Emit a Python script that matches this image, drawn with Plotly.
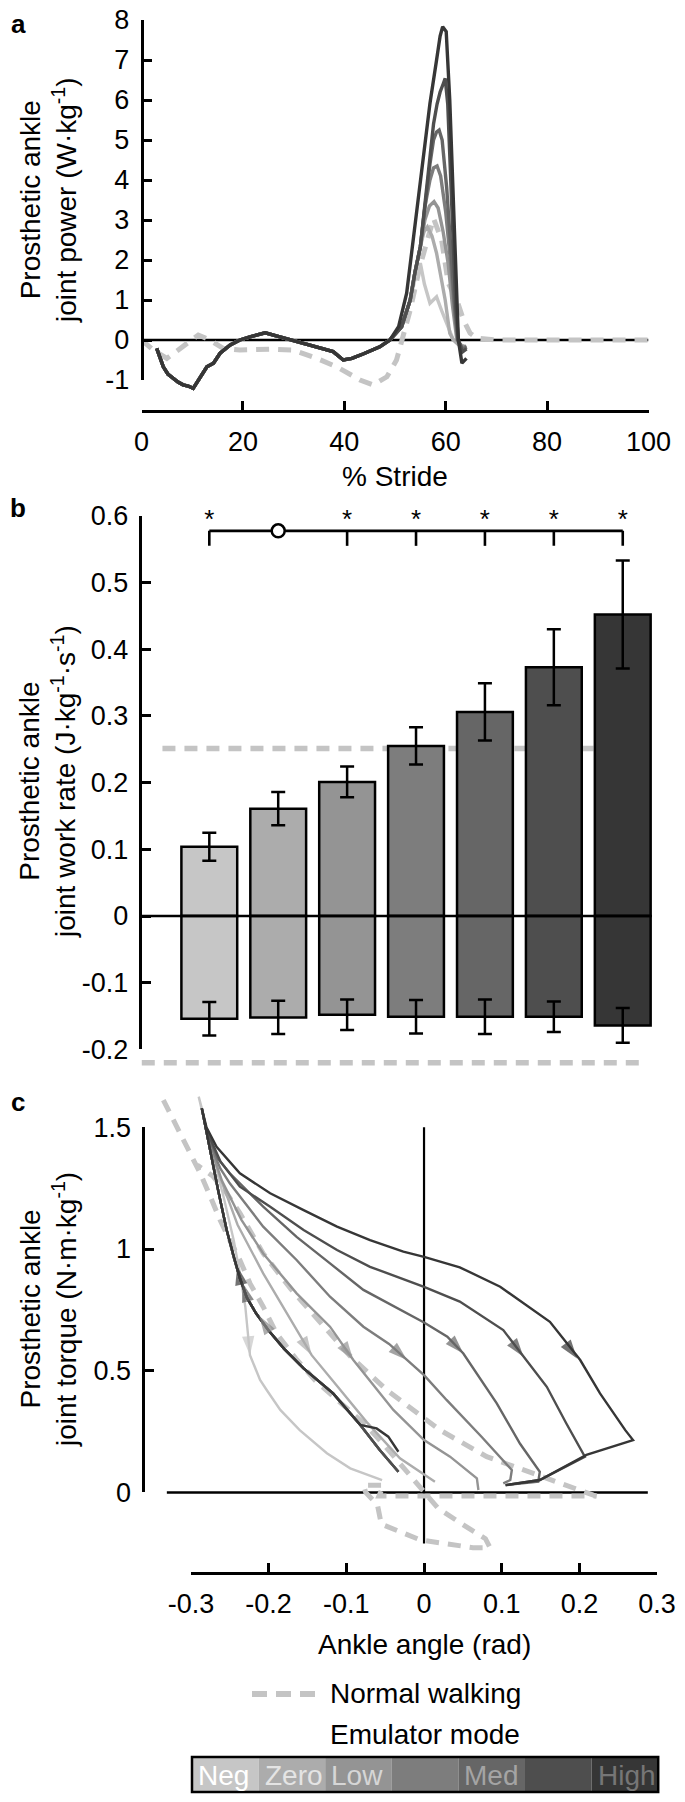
import numpy as np
import plotly.graph_objects as go

# the page body adds an 8 px margin: the figure is drawn 8 px in from the top-left corner
OFF = 8
FW, FH = 685 - OFF, 1802 - OFF
FONT = "Liberation Sans, Arial, Helvetica, sans-serif"


def fx(p):
    return (p - OFF) / FW


def fy(p):
    return 1 - (p - OFF) / FH


# ---------------- shared legend / palette data ----------------
mode_names = ["Neg", "Zero", "Low", "", "Med", "", "High"]
mode_colors = ['#c6c6c6', '#acacac', '#949494', '#7d7d7d', '#666666', '#4e4e4e', '#363636']
cell_text_colors = ['#ffffff', '#e4e4e4', '#d6d6d6', '#b0b0b0', '#a4a4a4', '#8c8c8c', '#767676']
NORMAL = '#c4c4c4'

# ---------------- panel a : power vs % stride ----------------
stride_ticks = [0, 20, 40, 60, 80, 100]
power_ticks = [-1, 0, 1, 2, 3, 4, 5, 6, 7, 8]

stance_x = [3.0, 4.3, 5.2, 6.3, 7.2, 8.2, 9.2, 10.2, 11.2, 12.0, 12.9, 14.2, 15.5, 17.5, 19.4,
            21.4, 24.4, 27.3, 30.6, 34.6, 37.8, 39.8, 41.5, 43.7, 47.0, 49.0]
stance_y = [-0.21, -0.67, -0.85, -0.96, -1.05, -1.12, -1.15, -1.21, -1.0, -0.85, -0.67, -0.58, -0.33,
            -0.125, 0.0, 0.08, 0.18, 0.08, -0.04, -0.17, -0.29, -0.5, -0.46, -0.35, -0.17, 0.0]

neg_push_x = [51.3, 53.0, 53.9, 55.0, 55.8, 56.9, 57.5, 58.2, 59.3, 60.5, 61.5, 62.5, 63.5]
neg_push_y = [0.33, 1.0, 1.5, 1.92, 1.4, 0.92, 1.0, 1.08, 0.7, 0.33, 0.0, -0.1, -0.15]
zero_push_x = [51.3, 53.0, 53.9, 55.0, 55.7, 56.4, 57.3, 58.2, 59.0, 59.9, 60.8, 61.5, 62.5, 63.7]
zero_push_y = [0.33, 1.0, 1.67, 2.33, 2.7, 2.83, 2.6, 2.17, 1.6, 1.0, 0.17, 0.0, -0.12, -0.15]
low_push_x = [51.3, 53.0, 53.9, 55.0, 55.9, 56.8, 57.7, 58.5, 59.5, 60.5, 61.3, 62.2, 63.0, 64.0]
low_push_y = [0.33, 1.0, 1.67, 2.33, 3.0, 3.35, 3.46, 3.3, 2.7, 1.9, 0.9, 0.0, -0.15, -0.2]
m4_push_x = [51.3, 53.0, 53.9, 55.0, 55.9, 56.9, 57.6, 58.3, 59.0, 60.0, 61.0, 61.8, 62.4, 63.3, 64.1]
m4_push_y = [0.33, 1.0, 1.67, 2.33, 3.33, 4.0, 4.3, 4.35, 4.1, 3.2, 1.9, 0.6, 0.0, -0.2, -0.15]
med_push_x = [51.3, 53.0, 53.9, 55.0, 55.9, 56.9, 57.6, 58.2, 58.7, 59.3, 60.2, 61.0, 61.8, 62.4, 63.4, 64.1]
med_push_y = [0.33, 1.0, 1.67, 2.33, 3.33, 4.4, 5.0, 5.2, 5.25, 5.0, 3.8, 2.3, 0.8, 0.0, -0.25, -0.18]
m6_push_x = [51.3, 53.0, 53.9, 55.0, 55.9, 56.9, 57.6, 58.3, 58.9, 59.5, 59.9, 60.4, 61.2, 62.0, 62.5, 63.3, 64.1]
m6_push_y = [0.33, 1.0, 1.67, 2.33, 3.33, 4.5, 5.4, 5.9, 6.2, 6.4, 6.54, 5.9, 3.5, 0.8, 0.0, -0.3, -0.22]
high_push_x = [50.7, 52.3, 53.6, 55.3, 56.9, 58.2, 58.9, 59.4, 60.1, 60.8, 61.5, 62.2, 62.5, 63.2, 64.1]
high_push_y = [0.33, 1.17, 2.5, 4.4, 5.92, 7.0, 7.6, 7.83, 7.71, 6.0, 3.5, 1.0, 0.0, -0.58, -0.46]

normal_stride_x = [0, 2.3, 5.0, 7.6, 11.2, 13.5, 16.1, 19.4, 26.0, 29.9, 34.6, 38.5, 43.1, 45.7, 48.4,
                   50.3, 51.3, 53.0, 54.9, 56.6, 57.6, 59.2, 60.5, 62.2, 63.5, 64.8, 66.1, 70, 80, 90, 100]
normal_power_y = [0, -0.25, -0.46, -0.21, 0.125, 0.0, -0.21, -0.25, -0.23, -0.25, -0.46, -0.67, -1.0, -1.125,
                  -0.92, -0.5, 0.0, 0.75, 1.83, 2.67, 3.04, 2.5, 1.42, 1.0, 0.5, 0.17, 0.05, 0.0, 0.0, 0.0, 0.0]

# ---------------- panel b : work rate bars ----------------
work_ticks = [-0.2, -0.1, 0, 0.1, 0.2, 0.3, 0.4, 0.5, 0.6]
work_ticktext = ['-0.2', '-0.1', '0', '0.1', '0.2', '0.3', '0.4', '0.5', '0.6']
bar_x = [1, 2, 3, 4, 5, 6, 7]
pos_work = [0.104, 0.161, 0.201, 0.255, 0.306, 0.373, 0.452]
pos_err = [0.021, 0.025, 0.023, 0.028, 0.043, 0.057, 0.081]
neg_work = [-0.154, -0.152, -0.148, -0.151, -0.151, -0.151, -0.164]
neg_err = [0.025, 0.025, 0.023, 0.025, 0.026, 0.023, 0.026]
normal_pos_work = 0.251
normal_neg_work = -0.22
sig_star_x = [1, 3, 4, 5, 6, 7]
trend_x = [2]
bracket_y = 0.5775
bracket_tick_y = 0.555
star_y = 0.6

# ---------------- panel c : torque vs angle ----------------
angle_ticks = [-0.3, -0.2, -0.1, 0, 0.1, 0.2, 0.3]
angle_ticktext = ['-0.3', '-0.2', '-0.1', '0', '0.1', '0.2', '0.3']
torque_ticks = [0, 0.5, 1, 1.5]
torque_ticktext = ['0', '0.5', '1', '1.5']

load_main_x = [-0.033, -0.057, -0.082, -0.117, -0.155, -0.180, -0.200, -0.216, -0.228, -0.237, -0.245,
               -0.254, -0.265, -0.275, -0.286]
load_main_y = [0.085, 0.174, 0.277, 0.407, 0.510, 0.590, 0.665, 0.735, 0.800, 0.880, 0.968,
               1.078, 1.242, 1.407, 1.578]
load_branch_x = [-0.033, -0.046, -0.061, -0.082, -0.117, -0.155, -0.180, -0.200, -0.216, -0.228, -0.237,
                 -0.245, -0.254, -0.265, -0.275, -0.286]
load_branch_y = [0.167, 0.229, 0.263, 0.277, 0.407, 0.510, 0.590, 0.665, 0.735, 0.800, 0.880,
                 0.968, 1.078, 1.242, 1.407, 1.578]

neg_unload_x = [-0.290, -0.275, -0.258, -0.245, -0.237, -0.230, -0.224, -0.211, -0.2025, -0.185, -0.160,
                -0.125, -0.095, -0.054]
neg_unload_y = [1.626, 1.420, 1.215, 1.037, 0.900, 0.763, 0.564, 0.462, 0.421, 0.339, 0.256, 0.161, 0.099, 0.051]
zero_unload_x = [-0.286, -0.278, -0.262, -0.240, -0.207, -0.177, -0.1446, -0.110, -0.074, -0.031, 0.014]
zero_unload_y = [1.578, 1.450, 1.290, 1.100, 0.900, 0.736, 0.564, 0.430, 0.290, 0.140, 0.044]
low_unload_x = [-0.286, -0.276, -0.260, -0.235, -0.207, -0.164, -0.121, -0.091, -0.0395, 0.000, 0.0335, 0.068, 0.070]
low_unload_y = [1.578, 1.430, 1.280, 1.120, 0.982, 0.818, 0.681, 0.544, 0.339, 0.215, 0.147, 0.058, 0.010]
m4_unload_x = [-0.286, -0.278, -0.262, -0.250, -0.207, -0.164, -0.121, -0.078, -0.045, -0.022, 0.000, 0.029,
               0.074, 0.113, 0.111, 0.102]
m4_unload_y = [1.578, 1.450, 1.330, 1.270, 1.092, 0.955, 0.804, 0.681, 0.610, 0.544, 0.482, 0.380,
               0.229, 0.092, 0.051, 0.037]
med_unload_x = [-0.286, -0.280, -0.265, -0.250, -0.207, -0.164, -0.121, -0.078, 0.000, 0.030, 0.0506, 0.0936,
                0.1236, 0.149, 0.147, 0.105]
med_unload_y = [1.578, 1.480, 1.370, 1.311, 1.174, 1.050, 0.941, 0.832, 0.698, 0.640, 0.571, 0.366,
                0.200, 0.085, 0.044, 0.030]
m6_unload_x = [-0.286, -0.280, -0.262, -0.237, -0.198, -0.155, -0.112, -0.0695, 0.000, 0.046, 0.102,
               0.128, 0.158, 0.183, 0.207, 0.149, 0.105]
m6_unload_y = [1.578, 1.490, 1.360, 1.256, 1.174, 1.078, 0.996, 0.927, 0.845, 0.784, 0.667,
               0.557, 0.434, 0.284, 0.147, 0.051, 0.030]
high_unload_x = [-0.286, -0.280, -0.267, -0.237, -0.198, -0.155, -0.112, -0.0695, -0.0266, 0.000, 0.046,
                 0.098, 0.162, 0.201, 0.2265, 0.259, 0.269, 0.209, 0.149, 0.105]
high_unload_y = [1.578, 1.500, 1.420, 1.311, 1.229, 1.160, 1.092, 1.037, 0.989, 0.968, 0.925,
                 0.845, 0.701, 0.544, 0.407, 0.256, 0.215, 0.154, 0.051, 0.030]

# normal walking loop: unloading branch (right, to toe-off) and loading branch with the swing loop
normal_unload_x = [0.222, 0.218, 0.1407, 0.0807, 0.0206, -0.048, -0.095, -0.118, -0.145, -0.172, -0.207,
                   -0.237, -0.254, -0.272, -0.292]
normal_unload_y = [-0.015, -0.011, 0.078, 0.147, 0.256, 0.421, 0.560, 0.640, 0.740, 0.838, 0.982,
                   1.148, 1.229, 1.300, 1.345]
normal_load_x = [-0.3355, -0.318, -0.303, -0.288, -0.275, -0.2625, -0.250, -0.237, -0.224, -0.207, -0.190,
                 -0.165, -0.140, -0.108, -0.076, -0.050, -0.0245, -0.0064, 0.018, 0.051, 0.079, 0.085,
                 0.063, -0.005, -0.055, -0.060, -0.075, -0.078, -0.052, -0.058, 0.222]
normal_load_y = [1.612, 1.502, 1.407, 1.311, 1.215, 1.119, 1.037, 0.955, 0.859, 0.763, 0.654,
                 0.550, 0.460, 0.370, 0.280, 0.190, 0.092, 0.023, -0.065, -0.134, -0.190, -0.227,
                 -0.227, -0.195, -0.130, -0.050, 0.000, 0.030, 0.030, -0.015, -0.015]

arrow_down_x = [-0.224, -0.1446, -0.091, -0.022, 0.0506, 0.128, 0.197]
arrow_down_y = [0.564, 0.564, 0.544, 0.544, 0.571, 0.557, 0.550]
arrow_up_x = [-0.2405, -0.2335, -0.212]
arrow_up_y = [0.93, 0.86, 0.725]
arrow_up_colors = ['#383838', '#5c5c5c', '#8a8a8a']

# ---------------- figure ----------------
fig = go.Figure()
no_hover = dict(hoverinfo='skip', showlegend=False)
dash_style = dict(color=NORMAL, width=5, dash='13px,9px')

# panel a traces
fig.add_trace(go.Scatter(x=normal_stride_x, y=normal_power_y, mode='lines', line=dash_style,
                         xaxis='x', yaxis='y', **no_hover))
push_sets = [(neg_push_x, neg_push_y), (zero_push_x, zero_push_y), (low_push_x, low_push_y),
             (m4_push_x, m4_push_y), (med_push_x, med_push_y), (m6_push_x, m6_push_y),
             (high_push_x, high_push_y)]
for (pxs, pys), col in zip(push_sets, mode_colors):
    fig.add_trace(go.Scatter(x=stance_x + pxs, y=stance_y + pys, mode='lines',
                             line=dict(color=col, width=3.4), xaxis='x', yaxis='y', **no_hover))

# panel b traces
fig.add_trace(go.Bar(x=bar_x, y=pos_work, width=0.81, marker=dict(color=mode_colors, line=dict(color='black', width=2.5)),
                     error_y=dict(type='data', array=pos_err, color='black', thickness=2.5, width=7),
                     xaxis='x2', yaxis='y2', **no_hover))
fig.add_trace(go.Bar(x=bar_x, y=neg_work, width=0.81, marker=dict(color=mode_colors, line=dict(color='black', width=2.5)),
                     error_y=dict(type='data', array=neg_err, color='black', thickness=2.5, width=7),
                     xaxis='x2', yaxis='y2', **no_hover))
bx, by = [bar_x[0], bar_x[-1], None], [bracket_y, bracket_y, None]
for sx in sig_star_x:
    bx += [sx, sx, None]
    by += [bracket_y, bracket_tick_y, None]
fig.add_trace(go.Scatter(x=bx, y=by, mode='lines', line=dict(color='black', width=2.6),
                         xaxis='x2', yaxis='y2', **no_hover))
fig.add_trace(go.Scatter(x=trend_x, y=[bracket_y] * len(trend_x), mode='markers',
                         marker=dict(symbol='circle', size=13, color='white', line=dict(color='black', width=2.5)),
                         xaxis='x2', yaxis='y2', **no_hover))
fig.add_trace(go.Scatter(x=sig_star_x, y=[star_y - 0.008] * len(sig_star_x), mode='text', text=['*'] * len(sig_star_x),
                         textfont=dict(family=FONT, size=26, color='black'), textposition='middle center',
                         xaxis='x2', yaxis='y2', **no_hover))

# panel c traces
fig.add_trace(go.Scatter(x=normal_unload_x, y=normal_unload_y, mode='lines', line=dash_style,
                         xaxis='x3', yaxis='y3', **no_hover))
fig.add_trace(go.Scatter(x=normal_load_x, y=normal_load_y, mode='lines', line=dash_style,
                         xaxis='x3', yaxis='y3', **no_hover))
unload_sets = [(neg_unload_x, neg_unload_y), (zero_unload_x, zero_unload_y), (low_unload_x, low_unload_y),
               (m4_unload_x, m4_unload_y), (med_unload_x, med_unload_y), (m6_unload_x, m6_unload_y),
               (high_unload_x, high_unload_y)]
mode_paths = []
for i, ((ux, uy), col) in enumerate(zip(unload_sets, mode_colors)):
    lx, ly = (load_branch_x, load_branch_y) if i == 6 else (load_main_x, load_main_y)
    mode_paths.append((ux, uy))
    fig.add_trace(go.Scatter(x=lx + ux, y=ly + uy, mode='lines', line=dict(color=col, width=2.4),
                             xaxis='x3', yaxis='y3', **no_hover))

# pixel scale of panel c (used only to find the curve segment under each arrow)
CX, CY = 777.0, 243.4


def tail_for(path_x, path_y, hx, hy):
    best, bi = 1e9, 0
    for i in range(len(path_x) - 1):
        ax, ay = path_x[i] * CX, path_y[i] * CY
        bx_, by_ = path_x[i + 1] * CX, path_y[i + 1] * CY
        px_, py_ = hx * CX, hy * CY
        vx, vy = bx_ - ax, by_ - ay
        L2 = vx * vx + vy * vy
        t = 0 if L2 == 0 else max(0, min(1, ((px_ - ax) * vx + (py_ - ay) * vy) / L2))
        d = (ax + t * vx - px_) ** 2 + (ay + t * vy - py_) ** 2
        if d < best - 1e-9:
            best, bi = d, i
    return path_x[bi], path_y[bi]


for (ux, uy), hx, hy, col in zip(mode_paths, arrow_down_x, arrow_down_y, mode_colors):
    tx, ty = tail_for(ux, uy, hx, hy)
    fig.add_trace(go.Scatter(x=[tx, hx], y=[ty, hy], mode='markers',
                             marker=dict(symbol='arrow', size=[0, 20], color=col, angleref='previous', line=dict(width=0)),
                             xaxis='x3', yaxis='y3', **no_hover))
for hx, hy, col in zip(arrow_up_x, arrow_up_y, arrow_up_colors):
    tx, ty = tail_for(load_main_x, load_main_y, hx, hy)
    fig.add_trace(go.Scatter(x=[tx, hx], y=[ty, hy], mode='markers',
                             marker=dict(symbol='arrow', size=[0, 20], color=col, angleref='previous', line=dict(width=0)),
                             xaxis='x3', yaxis='y3', **no_hover))

# dummy traces to realise the tick/spine axes
for xa, ya in [('x', 'y4'), ('x2', 'y5'), ('x6', 'y6')]:
    fig.add_trace(go.Scatter(x=[None], y=[None], mode='markers', xaxis=xa, yaxis=ya, **no_hover))

tick_font = dict(family=FONT, size=27, color='black')
shown = dict(showline=True, linecolor='black', linewidth=2.5, ticks='inside', ticklen=9, tickwidth=2.5,
             tickcolor='black', showgrid=False, zeroline=False, tickfont=tick_font, tickmode='array',
             fixedrange=True, automargin=False, ticklabeloverflow='allow')
hidden = dict(showline=False, showticklabels=False, ticks='', showgrid=False, zeroline=False, fixedrange=True,
              automargin=False)

shapes = [
    dict(type='line', xref='x', yref='y', x0=0, x1=100, y0=0, y1=0, line=dict(color='black', width=2.5), layer='below'),
    dict(type='line', xref='x2', yref='y2', x0=0.32, x1=7.0, y0=normal_pos_work, y1=normal_pos_work,
         line=dict(color=NORMAL, width=5.5, dash='13px,9px'), layer='below'),
    dict(type='line', xref='x2', yref='y2', x0=0.02, x1=7.24, y0=normal_neg_work, y1=normal_neg_work,
         line=dict(color=NORMAL, width=5.5, dash='13px,9px')),
    dict(type='line', xref='x2', yref='y2', x0=0, x1=7.41, y0=0, y1=0, line=dict(color='black', width=2.5)),
    dict(type='line', xref='x3', yref='y3', x0=-0.331, x1=0.288, y0=0, y1=0, line=dict(color='black', width=2.5), layer='below'),
    dict(type='line', xref='x3', yref='y3', x0=0, x1=0, y0=-0.21, y1=1.5, line=dict(color='black', width=2.2), layer='below'),
    dict(type='line', xref='paper', yref='paper', x0=fx(252), x1=fx(316), y0=fy(1694), y1=fy(1694),
         line=dict(color=NORMAL, width=6, dash='15px,9px')),
]
cell_l, cell_w = 192.0, 66.6
for i, col in enumerate(mode_colors):
    shapes.append(dict(type='rect', xref='paper', yref='paper', x0=fx(cell_l + i * cell_w), x1=fx(cell_l + (i + 1) * cell_w),
                       y0=fy(1792), y1=fy(1757), fillcolor=col, line=dict(width=0)))
shapes.append(dict(type='rect', xref='paper', yref='paper', x0=fx(cell_l), x1=fx(cell_l + 7 * cell_w),
                   y0=fy(1792), y1=fy(1757), line=dict(color='black', width=2.5)))

ann = []


def text(x, y, s, size=28, bold=False, angle=0, xanchor='center', color='black'):
    ann.append(dict(x=x, y=y, xref='paper', yref='paper', text=('<b>%s</b>' % s) if bold else s, showarrow=False,
                    textangle=angle, xanchor=xanchor, yanchor='middle', font=dict(family=FONT, size=size, color=color)))


text(fx(18), fy(24), 'a', 26, bold=True)
text(fx(18), fy(508), 'b', 26, bold=True)
text(fx(18), fy(1102), 'c', 26, bold=True)
text(fx(48), fy(200), 'Prosthetic ankle<br>joint power (W·kg<sup>-1</sup>)', angle=-90)
text(fx(48), fy(782), 'Prosthetic ankle<br>joint work rate (J·kg<sup>-1</sup>·s<sup>-1</sup>)', angle=-90)
text(fx(48), fy(1310), 'Prosthetic ankle<br>joint torque (N·m·kg<sup>-1</sup>)', angle=-90)
text(fx(395), fy(477), '% Stride')
text(fx(424), fy(1644), 'Ankle angle (rad)')
text(fx(328), fy(1693), 'Normal walking', 28, xanchor='left')
text(fx(328), fy(1734), 'Emulator mode', 28, xanchor='left')
for i, (nm, tc) in enumerate(zip(mode_names, cell_text_colors)):
    if nm:
        text(fx(cell_l + i * cell_w + 4), fy(1775), nm, 28, xanchor='left', color=tc)

fig.update_layout(
    template=None,
    width=FW, height=FH, autosize=False, margin=dict(l=0, r=0, t=0, b=0, pad=0, autoexpand=False),
    paper_bgcolor='white', plot_bgcolor='rgba(0,0,0,0)', showlegend=False,
    font=dict(family=FONT, size=26, color='black'), barmode='overlay',
    xaxis=dict(domain=[fx(141.5), fx(648.5)], range=[0, 100], anchor='y', tickvals=stride_ticks,
               ticktext=[str(v) for v in stride_ticks], ticklabelstandoff=6, **shown),
    yaxis=dict(domain=[fy(410), fy(14)], range=[-1.75, 8.15], anchor='x', **hidden),
    yaxis4=dict(domain=[fy(380), fy(20)], range=[-1, 8], anchor='free', position=fx(141.5), side='left',
                tickvals=power_ticks, ticktext=[str(v) for v in power_ticks], ticklabelstandoff=6, **shown),
    xaxis2=dict(domain=[fx(140.4), fx(657.2)], range=[0, 7.5], anchor='y2', **hidden),
    yaxis2=dict(domain=[fy(1076.1), fy(502.5)], range=[-0.24, 0.62], anchor='x2', **hidden),
    yaxis5=dict(domain=[fy(1049.4), fy(515.8)], range=[-0.2, 0.6], anchor='free', position=fx(140.4), side='left',
                tickvals=work_ticks, ticktext=work_ticktext, ticklabelstandoff=6, **shown),
    xaxis3=dict(domain=[fx(143.3), fx(664.9)], range=[-0.3613, 0.31], anchor='y3', **hidden),
    yaxis3=dict(domain=[fy(1573), fy(1088.4)], range=[-0.331, 1.66], anchor='x3', **hidden),
    xaxis6=dict(domain=[fx(190.9), fx(657.1)], range=[-0.3, 0.3], anchor='free', position=fy(1573), side='bottom',
                tickvals=angle_ticks, ticktext=angle_ticktext, ticklabelstandoff=6, **shown),
    yaxis6=dict(domain=[fy(1492.4), fy(1127.3)], range=[0, 1.5], anchor='free', position=fx(143.3), side='left',
                tickvals=torque_ticks, ticktext=torque_ticktext, ticklabelstandoff=6, **shown),
    shapes=shapes, annotations=ann,
)

fig.write_html("out.html")
